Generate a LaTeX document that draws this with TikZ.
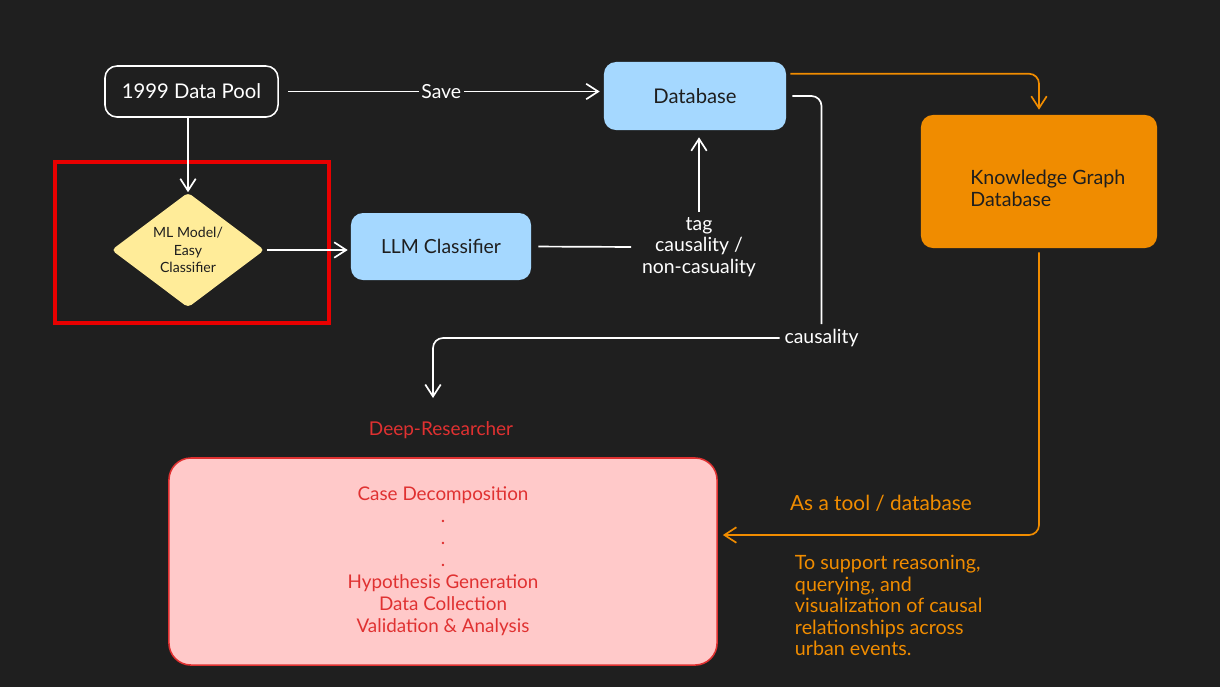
\documentclass[tikz,border=0pt]{standalone}
\usepackage{fontspec}
\setmainfont{Lato}
\usetikzlibrary{arrows.meta,shapes.geometric}
\definecolor{bg}{HTML}{1F1F1F}
\definecolor{blueish}{HTML}{A5D8FF}
\definecolor{yellowish}{HTML}{FFEC99}
\definecolor{kgorange}{HTML}{F08C00}
\definecolor{pinkish}{HTML}{FFC9C9}
\definecolor{deepred}{HTML}{E03131}
\definecolor{hilite}{HTML}{E80000}
\definecolor{ink}{HTML}{1E1E1E}
\tikzset{
  box/.style={rectangle,rounded corners=0.3cm,inner sep=0pt,align=center},
  bluebox/.style={box,fill=blueish,text=ink},
  wire/.style={white,line width=1.2pt},
  kgwire/.style={kgorange,line width=1.2pt},
  txt/.style={font=\fontsize{13.8}{15.5}\selectfont}
}
\begin{document}
\begin{tikzpicture}[x=0.025cm,y=-0.025cm,>={Straight Barb[length=8.5pt,width=11pt]}]
\fill [bg](0,0) rectangle (1220,687);
\node [box,draw=white,line width=1.1pt,text=white,minimum width=4.325cm,minimum height=1.275cm,font=\fontsize{14.4}{16}\selectfont] (pool) at (191.5,91.5) {1999 Data Pool};
\node [bluebox,minimum width=4.55cm,minimum height=1.7cm,font=\fontsize{14.4}{16}\selectfont] (db) at (695,96) {Database};
\node [diamond,fill=yellowish,text=ink,rounded corners=3pt,inner sep=0pt,align=center,minimum width=3.825cm,minimum height=2.85cm,font=\fontsize{10}{12.4}\selectfont] (ml) at (188,250) {ML Model/\\Easy\\Classifier};
\draw [hilite,line width=3pt](55,162) rectangle (329,323);
\node [bluebox,minimum width=4.5cm,minimum height=1.675cm,txt] (llm) at (441,246.5) {LLM Classifier};
\node [text=white,align=center,txt] (tag) at (699,247) {tag\\causality /\\non-casuality};
\node [text=white,txt] (causal) at (821.5,338) {causality};
\coordinate (deeptop) at (433,398);
\node [text=deepred,font=\fontsize{13.5}{16}\selectfont] (deep) at (441,430) {Deep-Researcher};
\node [box,rounded corners=0.55cm,fill=pinkish,draw=deepred,line width=1.1pt,text=deepred,minimum width=13.7cm,minimum height=5.175cm,font=\fontsize{13.4}{15.6}\selectfont] (deepbox) at (443,561.5) {Case Decomposition\\.\\.\\.\\Hypothesis Generation\\Data Collection\\Validation \& Analysis};
\node [box,fill=kgorange,minimum width=5.9cm,minimum height=3.325cm] (kg) at (1039,181.5) {};
\node [anchor=west,text=ink,align=left,inner sep=0pt,font=\fontsize{14}{15.6}\selectfont] (kgtext) at (970,188) {Knowledge Graph\\Database};
\node [text=kgorange,font=\fontsize{14.8}{16}\selectfont] (tool) at (881,503) {As a tool / database};
\node [anchor=north west,text=kgorange,align=left,font=\fontsize{14}{15.4}\selectfont] (note) at (790,550) {To support reasoning,\\querying, and\\visualization of causal\\relationships across\\urban events.};
\draw [wire,->,shorten <=0.225cm,shorten >=0.1cm](pool.east) -- (pool.east -| db.west) node [midway,fill=bg,inner sep=2pt,text=white,txt] (save) {Save};
\draw [wire,->](pool.south -| ml.north) -- (ml.north);
\draw [wire,->,shorten <=0.05cm,shorten >=0.075cm](ml.east) -- (ml.east -| llm.west);
\draw [wire,shorten <=0.175cm,shorten >=0.15cm](llm.east) -- (tag.west);
\draw [wire,->,shorten >=0.175cm](tag.north) -- (tag.north |- db.south);
\draw [wire,rounded corners=0.25cm,shorten <=0.15cm](db.east) -| (causal.north);
\draw [wire,->,rounded corners=0.25cm](causal.west) -| (deeptop);
\draw [kgwire,->,rounded corners=0.25cm,shorten >=0.125cm]([xshift=0.1cm,yshift=-0.3cm]db.north east) -| (kg.north);
\draw [kgwire,->,rounded corners=0.25cm,shorten <=0.1cm,shorten >=0.125cm](kg.south) |- ([yshift=0.6625cm]deepbox.east);
\end{tikzpicture}
\end{document}
